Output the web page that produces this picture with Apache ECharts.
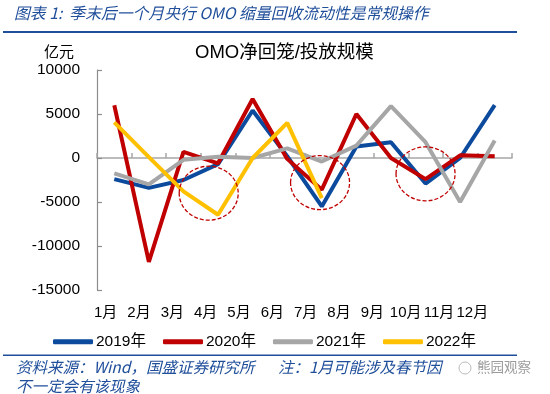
<!DOCTYPE html>
<html>
<head>
<meta charset="utf-8">
<script src="https://cdn.jsdelivr.net/npm/echarts@6/dist/echarts.min.js"></script>
<style>
html,body{margin:0;padding:0;background:#fff;}
#c{width:550px;height:394px;}
</style>
</head>
<body>
<div id="c"></div>
<script>
var months = ['1月','2月','3月','4月','5月','6月','7月','8月','9月','10月','11月','12月'];
var yTicks = [-15000, -10000, -5000, 0, 5000, 10000];
var s2019 = [-2400, -3400, -2500, -700, 5400, 200, -5500, 1300, 1800, -2900, 0, 6000];
var s2020 = [6000, -11800, 700, -600, 6700, -100, -3600, 5000, 0, -2400, 300, 200];
var s2021 = [-1750, -3000, -200, 150, 0, 1100, -400, 1400, 5900, 1800, -5000, 2000];
var s2022 = [4050, 100, -3800, -6450, 0, 4000, -4550];
var seriesNames = ['2019年','2020年','2021年','2022年'];
// annotation circles: [category index (fractional), value]
var circleCenters = [[2.73, -4000], [5.95, -2800], [9, -1800]];

var blueDark = '#1F4E9A';
var FONT = '"Liberation Sans","Noto Sans CJK SC",sans-serif';
var SRC_FONT = 'italic 15.5px "Noto Sans CJK SC","Liberation Sans",sans-serif';

var chart = echarts.init(document.getElementById('c'), null, {renderer:'canvas'});
var option = {
  animation: false,
  backgroundColor: '#fff',
  textStyle: {fontFamily: FONT},
  grid: [
    {left: 97, top: 70, width: 415, height: 220},
    {left: 89, top: 70, width: 400, height: 220}
  ],
  xAxis: [
    {
      type: 'category', gridIndex: 0, data: months, boundaryGap: true,
      axisLine: {show: true, onZero: true, lineStyle: {color: '#A6A6A6', width: 1.5}},
      axisTick: {show: true, inside: true, length: 5, interval: 0, lineStyle: {color: '#A6A6A6', width: 1.5}},
      axisLabel: {show: false},
      splitLine: {show: false}
    },
    {
      type: 'category', gridIndex: 1, data: months, position: 'bottom',
      axisLine: {show: false, onZero: false},
      axisTick: {show: false},
      axisLabel: {show: true, interval: 0, fontSize: 15, color: '#000', margin: 15, fontFamily: FONT},
      splitLine: {show: false}
    }
  ],
  yAxis: [
    {
      type: 'value', gridIndex: 0, min: yTicks[0], max: yTicks[yTicks.length-1], interval: 5000,
      axisLine: {show: true, lineStyle: {color: '#8C8C8C', width: 1.2}},
      axisTick: {show: true, inside: true, length: 5, lineStyle: {color: '#8C8C8C', width: 1.2}},
      axisLabel: {fontSize: 15.5, color: '#000', margin: 17, fontFamily: FONT, formatter: function (v) { return String(v); }},
      splitLine: {show: false}
    },
    {
      type: 'value', gridIndex: 1, min: yTicks[0], max: yTicks[yTicks.length-1], show: false
    }
  ],
  legend: {
    data: seriesNames,
    left: 48, top: 329,
    icon: 'roundRect',
    itemWidth: 40, itemHeight: 5, itemGap: 17,
    textStyle: {fontSize: 15.5, color: '#000', fontFamily: FONT, padding: [0,0,0,-2]}
  },
  series: [
    {name: seriesNames[0], type: 'line', data: s2019, symbol: 'none', lineStyle: {width: 4, color: '#0B4A9C'}, itemStyle: {color: '#0B4A9C'}},
    {name: seriesNames[1], type: 'line', data: s2020, symbol: 'none', lineStyle: {width: 4, color: '#C00000'}, itemStyle: {color: '#C00000'}},
    {name: seriesNames[2], type: 'line', data: s2021, symbol: 'none', lineStyle: {width: 4, color: '#A6A6A6'}, itemStyle: {color: '#A6A6A6'}},
    {name: seriesNames[3], type: 'line', data: s2022, symbol: 'none', lineStyle: {width: 4, color: '#FFC000'}, itemStyle: {color: '#FFC000'}}
  ]
};
chart.setOption(option);

var p0 = chart.convertToPixel({xAxisIndex: 0, yAxisIndex: 0}, [0, 0]);
var p1 = chart.convertToPixel({xAxisIndex: 0, yAxisIndex: 0}, [1, 0]);
var band = p1[0] - p0[0];
var circles = circleCenters.map(function (c) {
  var idx = Math.floor(c[0]);
  var frac = c[0] - idx;
  var p = chart.convertToPixel({xAxisIndex: 0, yAxisIndex: 0}, [idx, c[1]]);
  return {
    type: 'ellipse', z: 100, silent: true,
    shape: {cx: p[0] + frac * band, cy: p[1], rx: 29.5, ry: 27},
    style: {fill: 'none', stroke: '#C00000', lineWidth: 1.3, lineDash: [4, 2]}
  };
});

chart.setOption({
  graphic: [
    {type: 'text', left: 14, top: 5, style: {text: '图表 1:  季末后一个月央行 OMO 缩量回收流动性是常规操作', fill: blueDark, font: 'italic 15.8px "Noto Sans CJK SC","Liberation Sans",sans-serif'}},
    {type: 'rect', shape: {x: 3, y: 31, width: 514, height: 2}, style: {fill: blueDark}},
    {type: 'text', left: 195, top: 44, style: {text: 'OMO净回笼/投放规模', fill: '#000', font: '18.5px "Liberation Sans","Noto Sans CJK SC",sans-serif'}},
    {type: 'text', left: 44, top: 44, style: {text: '亿元', fill: '#000', font: '15px "Noto Sans CJK SC",sans-serif'}},
    {type: 'rect', shape: {x: 3, y: 354.5, width: 514, height: 1.5}, style: {fill: blueDark}},
    {type: 'text', left: 16, top: 359, style: {text: '资料来源：Wind，国盛证券研究所', fill: blueDark, font: SRC_FONT}},
    {type: 'text', left: 278, top: 359, style: {text: '注：1月可能涉及春节因', fill: blueDark, font: SRC_FONT}},
    {type: 'text', left: 16, top: 378, style: {text: '不一定会有该现象', fill: blueDark, font: SRC_FONT}},
    {type: 'circle', shape: {cx: 465, cy: 368, r: 6}, style: {fill: 'none', stroke: '#BBBBBB', lineWidth: 1}},
    {type: 'text', left: 477, top: 360, z: 200, style: {text: '熊园观察', fill: '#9A9A9A', font: '13.5px "Noto Sans CJK SC",sans-serif'}}
  ].concat(circles)
});
</script>
</body>
</html>
